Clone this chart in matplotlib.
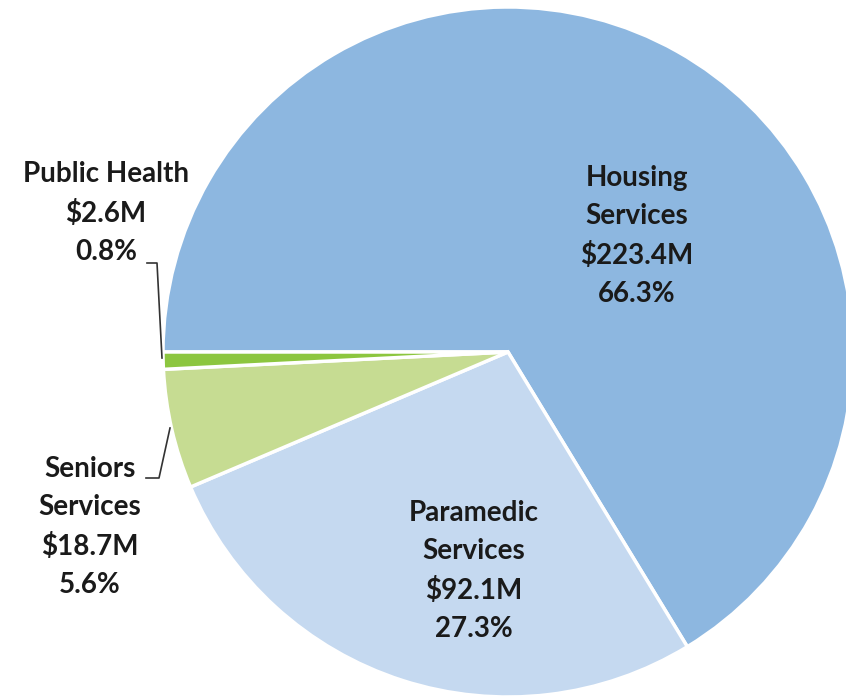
import matplotlib.pyplot as plt

# spending by program, millions of dollars
programs = ['Housing\nServices', 'Paramedic\nServices', 'Seniors\nServices', 'Public Health']
amounts = [223.4, 92.1, 18.7, 2.6]
shares = [66.3, 27.3, 5.6, 0.8]
colors = ['#8db7e0', '#c5d9f0', '#c6dc92', '#8cc63f']

plt.rcParams['font.family'] = ['Lato', 'DejaVu Sans']

W, H = 846, 698
fig = plt.figure(figsize=(W / 100, H / 100), dpi=100)
ax = fig.add_axes([0, 0, 1, 1])

cx, cy, r = 508, H - 352, 345
ax.pie(shares, colors=colors, startangle=180, counterclock=False,
       center=(cx, cy), radius=r, frame=True,
       wedgeprops=dict(edgecolor='white', linewidth=2.5))
ax.set_xlim(0, W)
ax.set_ylim(0, H)
ax.axis('off')

labels = [f'{p}\n${a}M\n{s}%' for p, a, s in zip(programs, amounts, shares)]
# label centres (x, y from top)
pos = [(637, 236), (474, 571), (90, 527), (106, 213)]
for lab, (x, y) in zip(labels, pos):
    ax.text(x, H - y, lab, ha='center', va='center', fontsize=20,
            fontweight='bold', color='#1a1a1a', linespacing=1.58)

# leader lines for the small slices
ax.plot([147, 157, 162], [H - 263, H - 263, H - 358], color='#333333', lw=1.2)
ax.plot([146, 159, 170], [H - 478, H - 478, H - 428], color='#333333', lw=1.2)

fig.savefig('out.png', dpi=100)
